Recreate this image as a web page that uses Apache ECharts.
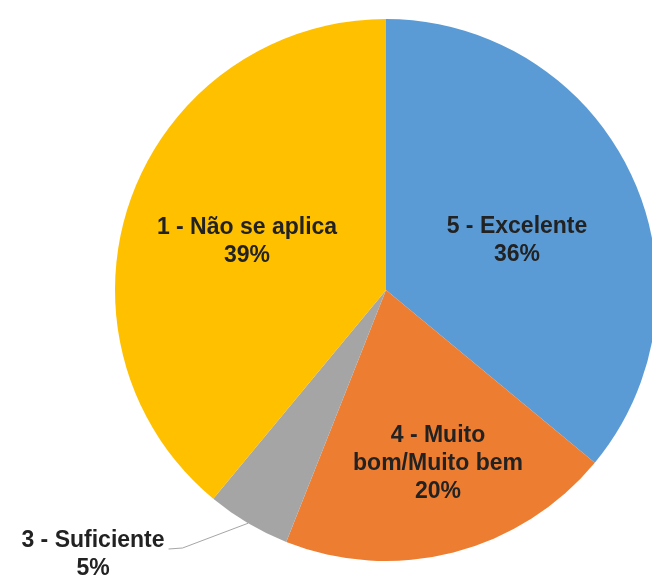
<!DOCTYPE html>
<html>
<head>
<meta charset="utf-8">
<script src="https://cdn.jsdelivr.net/npm/echarts@6/dist/echarts.min.js"></script>
<style>
  html, body { margin: 0; padding: 0; background: #ffffff; }
  #chart { width: 652px; height: 585px; }
</style>
</head>
<body>
<div id="chart"></div>
<script>
// ---- data ----
const categories = ['5 - Excelente', '4 - Muito bom/Muito bem', '3 - Suficiente', '1 - Não se aplica'];
const values = [36, 20, 5, 39];

// ---- styles / layout ----
const colors = ['#5B9BD5', '#ED7D31', '#A5A5A5', '#FFC000'];
const labelCenters = [[517, 241], [438, 464], [93, 555], [247, 242]];
const outsideIndex = 2;

const chart = echarts.init(document.getElementById('chart'), null, { renderer: 'canvas' });

const seriesData = categories.map((name, i) => ({
  name: name,
  value: values[i],
  itemStyle: { color: colors[i] },
  label: i === outsideIndex ? { position: 'outside' } : { position: 'inside' },
  labelLine: { show: i === outsideIndex }
}));

chart.setOption({
  animation: false,
  backgroundColor: '#ffffff',
  series: [{
    type: 'pie',
    center: [386, 290],
    radius: 271,
    startAngle: 90,
    clockwise: true,
    avoidLabelOverlap: false,
    data: seriesData,
    label: {
      show: true,
      formatter: function (p) {
        const n = p.name.replace(' bom/', '\nbom/');
        return n + '\n' + Math.round(p.percent) + '%';
      },
      fontFamily: '"Liberation Sans", Arial, sans-serif',
      fontWeight: 'bold',
      fontSize: 23,
      lineHeight: 28,
      color: '#222222',
      align: 'center'
    },
    labelLine: {
      lineStyle: { color: '#A6A6A6', width: 1 }
    },
    labelLayout: function (params) {
      const c = labelCenters[params.dataIndex];
      const out = { x: c[0], y: c[1], align: 'center', verticalAlign: 'middle' };
      if (params.dataIndex === outsideIndex && params.labelLinePoints) {
        const start = params.labelLinePoints[0];
        const hw = params.labelRect.width / 2;
        const endX = c[0] + hw + 4;
        const endY = c[1] - 6;
        out.labelLinePoints = [start, [endX + 14, endY - 1], [endX, endY]];
      }
      return out;
    },
    emphasis: { disabled: true }
  }]
});
</script>
</body>
</html>
